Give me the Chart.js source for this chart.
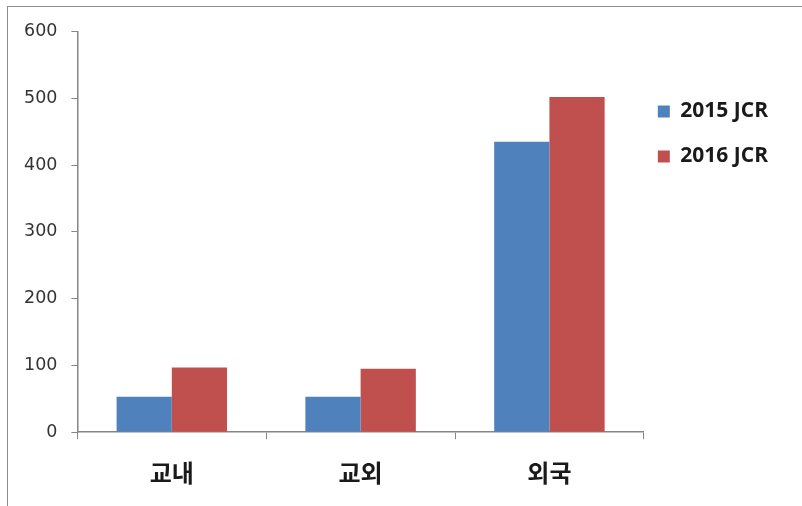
<!DOCTYPE html>
<html>
<head>
<meta charset="utf-8">
<script src="https://cdn.jsdelivr.net/npm/chart.js@4"></script>
<style>
    body { margin: 0; background: #fff; }
    #frame {
        position: absolute; left: 7px; top: 6px;
        width: 794px; height: 499px;
        border-left: 1px solid #8c8c8c; border-top: 1px solid #8c8c8c;
    }
    #wrap { position: absolute; left: 0; top: 0; width: 794px; height: 499px; }
</style>
</head>
<body>
<div id="frame"><div id="wrap"><canvas id="chart"></canvas></div></div>
<script>
const categories = ["교내", "교외", "외국"];
const series2015 = [53, 53, 435];
const series2016 = [97, 95, 502];
const seriesNames = ["2015 JCR", "2016 JCR"];
const yTicks = [0, 100, 200, 300, 400, 500, 600];

const axisColor = "#868686";

// pull the legend a bit closer to the plot than its item padding allows
const legendShift = {
    id: "legendShift",
    afterLayout(chart) {
        chart.legend.left -= 10;
        chart.legend.right -= 10;
    }
};

const ctx = document.getElementById("chart").getContext("2d");
const chart = new Chart(ctx, {
    type: "bar",
    data: {
        labels: categories,
        datasets: [
            { label: seriesNames[0], data: series2015, backgroundColor: "#4F81BD" },
            { label: seriesNames[1], data: series2016, backgroundColor: "#C0504D" }
        ]
    },
    plugins: [legendShift],
    options: {
        responsive: true,
        maintainAspectRatio: false,
        animation: false,
        categoryPercentage: 0.585,
        barPercentage: 1,
        layout: { padding: { left: 2, right: 14, top: 22, bottom: 0 } },
        plugins: {
            tooltip: { enabled: false },
            legend: {
                position: "right",
                align: "start",
                title: { display: true, text: " ", padding: 18, font: { size: 10 } },
                labels: {
                    boxWidth: 12,
                    boxHeight: 12,
                    padding: 24,
                    color: "#1a1a1a",
                    font: { family: "'Open Sans', 'DejaVu Sans', sans-serif", size: 21, weight: "bold" }
                }
            }
        },
        scales: {
            x: {
                grid: { display: true, drawOnChartArea: false, color: axisColor, tickLength: 7, offset: true },
                border: { color: axisColor, width: 1.5 },
                ticks: {
                    color: "#1a1a1a",
                    padding: 19,
                    font: { family: "'Noto Sans CJK KR', sans-serif", size: 24, weight: "bold" }
                }
            },
            y: {
                min: 0,
                max: 600,
                afterBuildTicks: axis => { axis.ticks = yTicks.map(v => ({ value: v })); },
                grid: { display: true, drawOnChartArea: false, color: axisColor, tickLength: 6 },
                border: { color: axisColor, width: 1.5 },
                ticks: {
                    color: "#333",
                    padding: 14,
                    font: { family: "'DejaVu Sans', sans-serif", size: 17.5 }
                }
            }
        }
    }
});
</script>
</body>
</html>
